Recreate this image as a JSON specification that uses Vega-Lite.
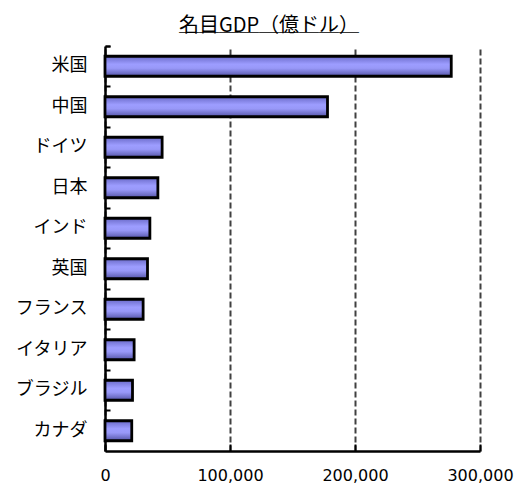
{
  "$schema": "https://vega.github.io/schema/vega-lite/v6.json",
  "autosize": "none",
  "width": 375,
  "height": 405,
  "padding": {"left": 105, "top": 46, "right": 34, "bottom": 35},
  "background": "white",
  "title": {
    "text": "名目GDP（億ドル）",
    "subtitle": "＿＿＿＿＿＿＿＿＿",
    "font": "Noto Sans CJK JP",
    "fontSize": 20,
    "fontWeight": "normal",
    "color": "black",
    "subtitleFont": "Noto Sans CJK JP",
    "subtitleFontSize": 20,
    "subtitleColor": "black",
    "subtitlePadding": -21,
    "anchor": "middle",
    "dx": -23.5,
    "offset": 0
  },
  "data": {
    "values": [
      {"country": "米国", "gdp": 277000},
      {"country": "中国", "gdp": 178000},
      {"country": "ドイツ", "gdp": 45700},
      {"country": "日本", "gdp": 42300},
      {"country": "インド", "gdp": 35900},
      {"country": "英国", "gdp": 34000},
      {"country": "フランス", "gdp": 30500},
      {"country": "イタリア", "gdp": 23300},
      {"country": "ブラジル", "gdp": 22000},
      {"country": "カナダ", "gdp": 21400}
    ]
  },
  "mark": {
    "type": "bar",
    "size": 20,
    "stroke": "black",
    "strokeWidth": 2.8,
    "color": {
      "gradient": "linear",
      "x1": 0, "y1": 0, "x2": 0, "y2": 1,
      "stops": [
        {"offset": 0, "color": "#6A6AC8"},
        {"offset": 0.4, "color": "#9D9DFF"},
        {"offset": 0.6, "color": "#9898F8"},
        {"offset": 1, "color": "#5555A8"}
      ]
    }
  },
  "encoding": {
    "y": {
      "field": "country",
      "type": "nominal",
      "sort": null,
      "scale": {"paddingInner": 0, "paddingOuter": 0},
      "axis": {
        "title": null,
        "bandPosition": 0,
        "tickExtra": true,
        "tickSize": -5,
        "tickWidth": 2,
        "tickColor": "black",
        "domainColor": "black",
        "domainWidth": 2.5,
        "labelFont": "Noto Sans CJK JP",
        "labelFontSize": 18,
        "labelColor": "black",
        "labelPadding": 23,
        "grid": false
      }
    },
    "x": {
      "field": "gdp",
      "type": "quantitative",
      "scale": {"domain": [0, 300000], "nice": false},
      "axis": {
        "title": null,
        "values": [0, 100000, 200000, 300000],
        "format": ",d",
        "tickSize": -7,
        "tickWidth": 2,
        "tickColor": "black",
        "domainColor": "black",
        "domainWidth": 2.5,
        "labelFont": "DejaVu Sans",
        "labelFontSize": 16,
        "labelColor": "black",
        "labelPadding": 23,
        "labelDx": -4,
        "labelFlush": false,
        "labelOverlap": false,
        "grid": true,
        "gridDash": [6, 3],
        "gridColor": "#404040",
        "gridWidth": 2
      }
    }
  },
  "config": {
    "view": {"stroke": null}
  }
}
